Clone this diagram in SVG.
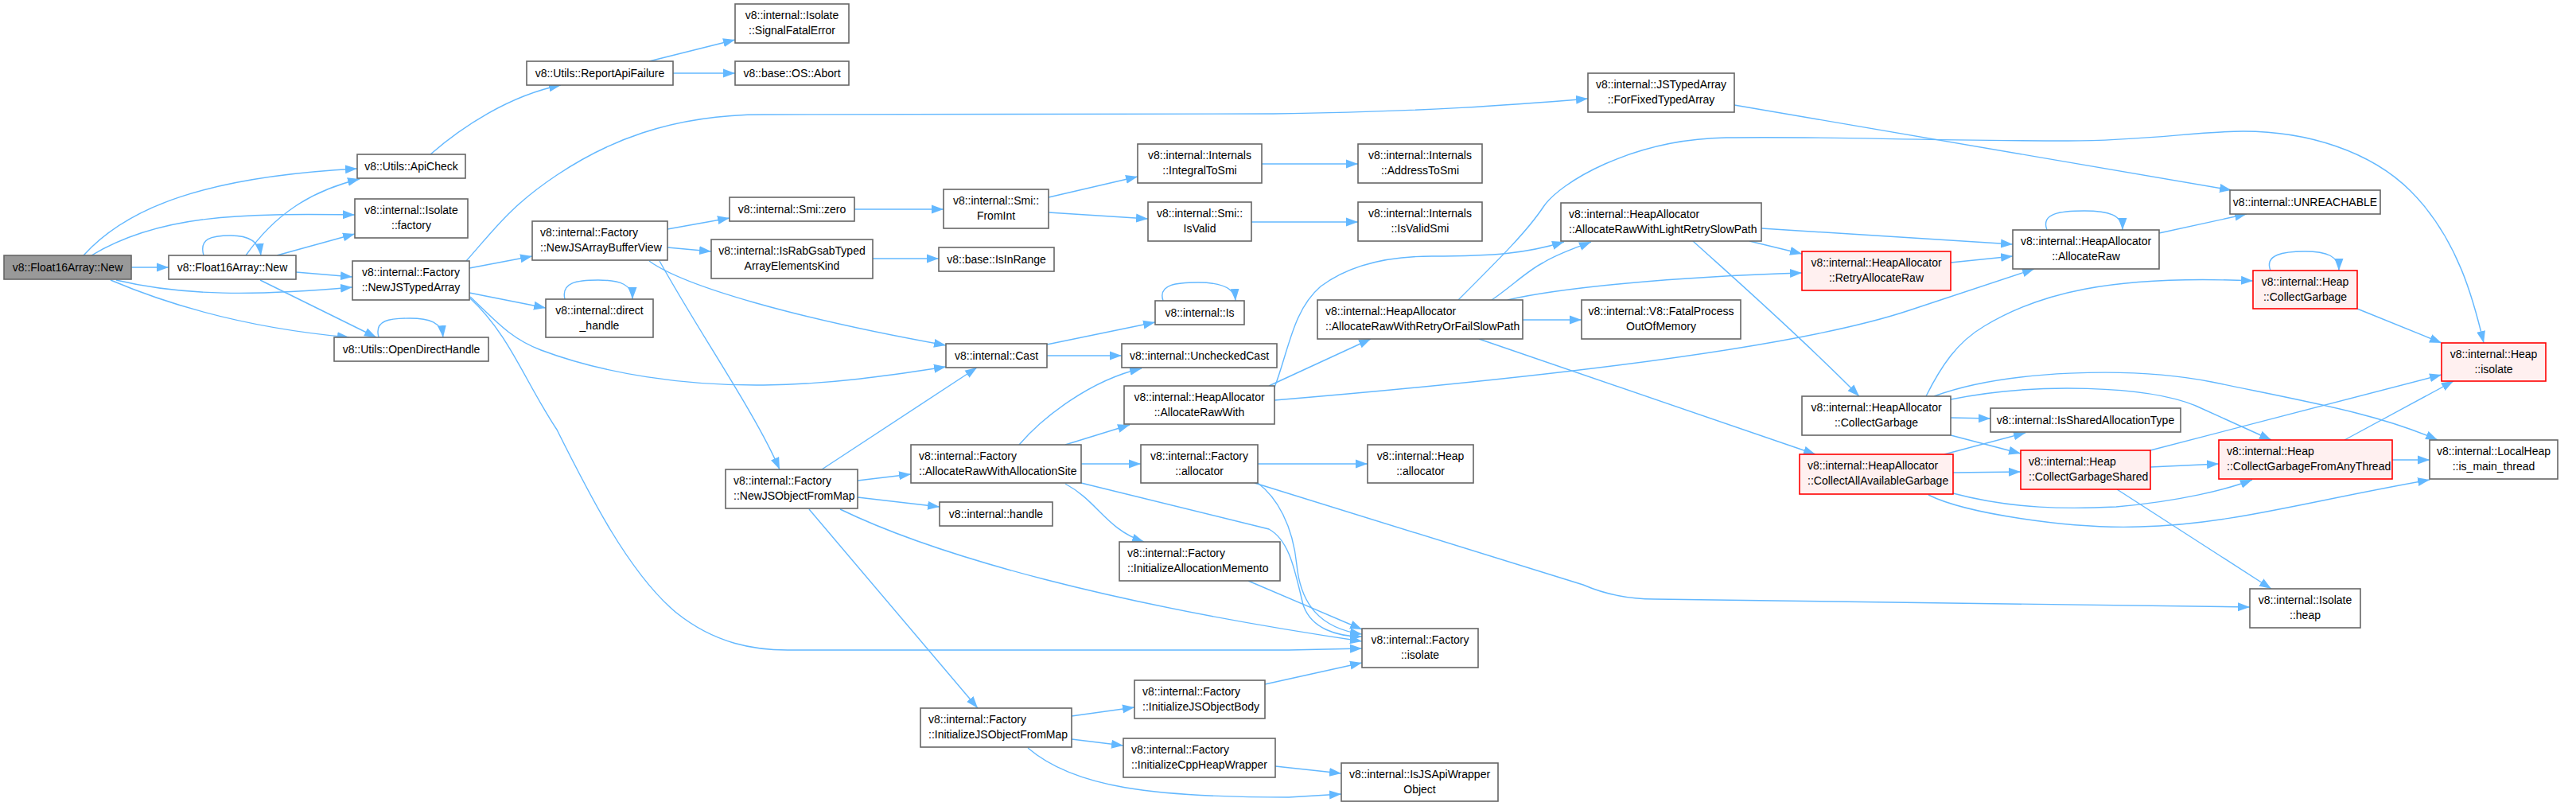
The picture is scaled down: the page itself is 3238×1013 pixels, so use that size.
<svg xmlns="http://www.w3.org/2000/svg" width="3238" height="1013" viewBox="0 0 3238 1013">
<defs>
<marker id="a" markerWidth="16" markerHeight="12" refX="15" refY="6" orient="auto" markerUnits="userSpaceOnUse"><path d="M0,0.5 L15,6 L0,11.5 z" fill="#63b8ff"/></marker>
<style>
.n rect{fill:#fff;stroke:#666;stroke-width:1.6}
.hl rect{fill:#999}
.r rect{fill:#fff0f0;stroke:#f00}
text{font-family:"Liberation Sans",Arial,sans-serif;font-size:14px;fill:#000}
.c{text-anchor:middle}
#edges path{fill:none;stroke:#63b8ff;stroke-width:1.4;marker-end:url(#a)}
</style>
</defs>
<rect width="3238" height="1013" fill="#fff"/>
<g id="edges">
<path d="M105,321 C160,260 260,222 449,212"/>
<path d="M115,321 C200,270 300,268 446,270"/>
<path d="M165,336 L212,336"/>
<path d="M146,352 C230,372 320,372 443,361"/>
<path d="M139,352 C240,395 340,415 439,424"/>
<path d="M256,321 C250,300 265,296 290,296 C315,296 326,305 328,321"/>
<path d="M309,321 C345,270 390,240 452,225"/>
<path d="M348,321 L446,294"/>
<path d="M372,342 L443,348"/>
<path d="M327,352 L473,424"/>
<path d="M476,424 C470,402 490,400 515,400 C540,400 555,405 557,424"/>
<path d="M541,194 C580,160 640,120 705,107"/>
<path d="M816,77 L924,50"/>
<path d="M846,92 L924,92"/>
<path d="M586,328 C620,290 640,260 700,220 C760,180 840,144 960,144 L1600,143 C1800,140 1900,132 1996,124"/>
<path d="M590,337 L669,322"/>
<path d="M590,368 L686,387"/>
<path d="M710,376 C705,355 725,352 752,352 C780,352 795,358 795,376"/>
<path d="M591,373 C620,400 640,425 680,440 C760,470 860,485 960,484 C1050,483 1130,470 1189,461"/>
<path d="M591,375 C640,420 660,480 700,540 C740,620 790,720 850,770 C900,810 950,817 990,817 L1620,817 L1712,815"/>
<path d="M839,288 L917,274"/>
<path d="M839,311 L894,316"/>
<path d="M816,328 C860,360 1000,400 1189,434"/>
<path d="M829,328 C880,420 950,520 980,590"/>
<path d="M1074,263 L1186,263"/>
<path d="M1318,248 L1430,222"/>
<path d="M1318,267 L1443,275"/>
<path d="M1586,206 L1707,206"/>
<path d="M1573,279 L1707,279"/>
<path d="M1097,325 L1180,325"/>
<path d="M1316,433 L1452,405"/>
<path d="M1316,447 L1410,447"/>
<path d="M1462,378 C1455,357 1480,355 1506,355 C1535,355 1552,362 1553,378"/>
<path d="M1033,590 L1228,462"/>
<path d="M1078,604 L1145,596"/>
<path d="M1078,625 L1181,637"/>
<path d="M1056,640 C1180,700 1400,760 1712,806"/>
<path d="M1017,640 L1229,890"/>
<path d="M1281,559 C1310,525 1370,478 1435,463"/>
<path d="M1339,559 L1420,534"/>
<path d="M1359,583 L1434,583"/>
<path d="M1339,608 C1380,630 1390,665 1438,681"/>
<path d="M1359,607 L1595,665 C1622,680 1628,720 1638,760 C1648,790 1680,800 1712,800"/>
<path d="M1581,607 C1605,625 1625,660 1630,710 C1635,760 1660,790 1712,797"/>
<path d="M1577,607 L1990,735 C2020,748 2050,753 2080,753 L2828,763"/>
<path d="M1581,583 L1719,583"/>
<path d="M1569,730 L1712,791"/>
<path d="M1347,900 L1426,889"/>
<path d="M1347,929 L1412,937"/>
<path d="M1292,940 C1350,990 1450,1002 1620,1002 L1686,998"/>
<path d="M1603,963 L1686,972"/>
<path d="M1590,860 L1712,833"/>
<path d="M1595,485 L1723,426"/>
<path d="M1602,487 C1620,440 1625,390 1660,360 C1700,330 1750,322 1800,322 C1880,322 1920,318 1966,304"/>
<path d="M1602,503 C1900,478 2250,440 2400,390 L2557,338"/>
<path d="M1833,377 C1890,320 1920,290 1940,260 C1960,230 2050,175 2170,173 C2300,171 2400,177 2600,177 C2700,177 2760,165 2820,165 C2900,165 2980,190 3030,240 C3090,300 3110,380 3122,431"/>
<path d="M1875,377 C1900,360 1920,340 1940,330 C1960,318 1985,310 2000,304"/>
<path d="M1895,377 C1960,362 2100,348 2265,343"/>
<path d="M1914,402 L1988,402"/>
<path d="M1859,426 L2282,571"/>
<path d="M2214,287 L2530,307"/>
<path d="M2199,303 L2265,319"/>
<path d="M2128,303 C2180,350 2260,420 2337,498"/>
<path d="M2452,330 L2530,322"/>
<path d="M2573,289 C2565,268 2590,265 2620,265 C2650,265 2668,270 2668,289"/>
<path d="M2714,293 L2824,269"/>
<path d="M2180,132 L2805,239"/>
<path d="M2421,498 C2440,460 2460,430 2494,410 C2560,370 2650,345 2832,353"/>
<path d="M2452,525 L2502,526"/>
<path d="M2452,547 L2540,570"/>
<path d="M2452,502 C2560,480 2700,485 2760,510 L2855,553"/>
<path d="M2431,498 C2520,465 2680,460 2780,480 C2900,505 2990,520 3064,553"/>
<path d="M2444,571 L2546,544"/>
<path d="M2455,594 L2540,593"/>
<path d="M2455,620 C2530,640 2600,640 2660,637 C2740,630 2800,615 2831,603"/>
<path d="M2424,622 C2470,645 2600,665 2690,662 C2800,660 2900,630 3054,603"/>
<path d="M2703,587 L2789,583"/>
<path d="M2703,566 L3069,471"/>
<path d="M2661,615 L2855,740"/>
<path d="M2947,553 L3084,479"/>
<path d="M3007,578 L3054,578"/>
<path d="M2963,388 L3069,431"/>
<path d="M2854,340 C2846,320 2870,316 2897,316 C2925,316 2940,322 2940,340"/>
</g>
<g id="n1" class="n hl"><rect x="5" y="321" width="160" height="30"/><text class="c" x="85" y="341">v8::Float16Array::New</text></g>
<g id="n2" class="n"><rect x="212" y="321" width="160" height="30"/><text class="c" x="292" y="341">v8::Float16Array::New</text></g>
<g id="apicheck" class="n"><rect x="449" y="194" width="136" height="30"/><text class="c" x="517" y="214">v8::Utils::ApiCheck</text></g>
<g id="isofactory" class="n"><rect x="446" y="250" width="142" height="49"/><text class="c" x="517" y="269">v8::internal::Isolate</text><text class="c" x="517" y="288">::factory</text></g>
<g id="newjsta" class="n"><rect x="443" y="328" width="147" height="49"/><text class="c" x="516.5" y="347">v8::internal::Factory</text><text class="c" x="516.5" y="366">::NewJSTypedArray</text></g>
<g id="opendh" class="n"><rect x="420" y="424" width="194" height="30"/><text class="c" x="517" y="444">v8::Utils::OpenDirectHandle</text></g>
<g id="report" class="n"><rect x="662" y="77" width="184" height="30"/><text class="c" x="754" y="97">v8::Utils::ReportApiFailure</text></g>
<g id="newjsabv" class="n"><rect x="669" y="278" width="170" height="49"/><text x="679" y="297">v8::internal::Factory</text><text x="679" y="316">::NewJSArrayBufferView</text></g>
<g id="directh" class="n"><rect x="686" y="376" width="135" height="48"/><text class="c" x="753.5" y="395">v8::internal::direct</text><text class="c" x="753.5" y="414">_handle</text></g>
<g id="signal" class="n"><rect x="924" y="5" width="143" height="49"/><text class="c" x="995.5" y="24">v8::internal::Isolate</text><text class="c" x="995.5" y="43">::SignalFatalError</text></g>
<g id="abort" class="n"><rect x="924" y="77" width="143" height="30"/><text class="c" x="995.5" y="97">v8::base::OS::Abort</text></g>
<g id="smizero" class="n"><rect x="917" y="248" width="157" height="30"/><text class="c" x="995.5" y="268">v8::internal::Smi::zero</text></g>
<g id="israb" class="n"><rect x="894" y="301" width="203" height="49"/><text class="c" x="995.5" y="320">v8::internal::IsRabGsabTyped</text><text class="c" x="995.5" y="339">ArrayElementsKind</text></g>
<g id="fromint" class="n"><rect x="1186" y="238" width="132" height="49"/><text class="c" x="1252" y="257">v8::internal::Smi::</text><text class="c" x="1252" y="276">FromInt</text></g>
<g id="isinrange" class="n"><rect x="1180" y="311" width="145" height="30"/><text class="c" x="1252.5" y="331">v8::base::IsInRange</text></g>
<g id="integral" class="n"><rect x="1430" y="181" width="156" height="49"/><text class="c" x="1508" y="200">v8::internal::Internals</text><text class="c" x="1508" y="219">::IntegralToSmi</text></g>
<g id="isvalid" class="n"><rect x="1443" y="254" width="130" height="49"/><text class="c" x="1508" y="273">v8::internal::Smi::</text><text class="c" x="1508" y="292">IsValid</text></g>
<g id="is" class="n"><rect x="1452" y="378" width="112" height="30"/><text class="c" x="1508" y="398">v8::internal::Is</text></g>
<g id="cast" class="n"><rect x="1189" y="432" width="127" height="30"/><text class="c" x="1252.5" y="452">v8::internal::Cast</text></g>
<g id="unchecked" class="n"><rect x="1410" y="432" width="195" height="30"/><text class="c" x="1507.5" y="452">v8::internal::UncheckedCast</text></g>
<g id="allocrawwith" class="n"><rect x="1413" y="485" width="189" height="48"/><text class="c" x="1507.5" y="504">v8::internal::HeapAllocator</text><text class="c" x="1507.5" y="523">::AllocateRawWith</text></g>
<g id="forfixed" class="n"><rect x="1996" y="92" width="184" height="49"/><text class="c" x="2088" y="111">v8::internal::JSTypedArray</text><text class="c" x="2088" y="130">::ForFixedTypedArray</text></g>
<g id="address" class="n"><rect x="1707" y="181" width="156" height="49"/><text class="c" x="1785" y="200">v8::internal::Internals</text><text class="c" x="1785" y="219">::AddressToSmi</text></g>
<g id="isvalidsmi" class="n"><rect x="1707" y="254" width="156" height="49"/><text class="c" x="1785" y="273">v8::internal::Internals</text><text class="c" x="1785" y="292">::IsValidSmi</text></g>
<g id="lightretry" class="n"><rect x="1962" y="255" width="252" height="48"/><text x="1972" y="274">v8::internal::HeapAllocator</text><text x="1972" y="293">::AllocateRawWithLightRetrySlowPath</text></g>
<g id="retryallocraw" class="n r"><rect x="2265" y="316" width="187" height="49"/><text class="c" x="2358.5" y="335">v8::internal::HeapAllocator</text><text class="c" x="2358.5" y="354">::RetryAllocateRaw</text></g>
<g id="retryorfail" class="n"><rect x="1656" y="377" width="258" height="49"/><text x="1666" y="396">v8::internal::HeapAllocator</text><text x="1666" y="415">::AllocateRawWithRetryOrFailSlowPath</text></g>
<g id="fatal" class="n"><rect x="1988" y="377" width="200" height="49"/><text class="c" x="2088" y="396">v8::internal::V8::FatalProcess</text><text class="c" x="2088" y="415">OutOfMemory</text></g>
<g id="unreachable" class="n"><rect x="2803" y="239" width="189" height="30"/><text class="c" x="2897.5" y="259">v8::internal::UNREACHABLE</text></g>
<g id="allocateraw" class="n"><rect x="2530" y="289" width="184" height="49"/><text class="c" x="2622" y="308">v8::internal::HeapAllocator</text><text class="c" x="2622" y="327">::AllocateRaw</text></g>
<g id="heapcg" class="n r"><rect x="2832" y="340" width="131" height="48"/><text class="c" x="2897.5" y="359">v8::internal::Heap</text><text class="c" x="2897.5" y="378">::CollectGarbage</text></g>
<g id="heapisolate" class="n r"><rect x="3069" y="431" width="131" height="48"/><text class="c" x="3134.5" y="450">v8::internal::Heap</text><text class="c" x="3134.5" y="469">::isolate</text></g>
<g id="newjsobj" class="n"><rect x="912" y="590" width="166" height="49"/><text x="922" y="609">v8::internal::Factory</text><text x="922" y="628">::NewJSObjectFromMap</text></g>
<g id="allocsite" class="n"><rect x="1145" y="559" width="214" height="48"/><text x="1155" y="578">v8::internal::Factory</text><text x="1155" y="597">::AllocateRawWithAllocationSite</text></g>
<g id="handle" class="n"><rect x="1181" y="631" width="142" height="30"/><text class="c" x="1252" y="651">v8::internal::handle</text></g>
<g id="factoryallocator" class="n"><rect x="1434" y="559" width="147" height="48"/><text class="c" x="1507.5" y="578">v8::internal::Factory</text><text class="c" x="1507.5" y="597">::allocator</text></g>
<g id="initmemento" class="n"><rect x="1407" y="681" width="202" height="49"/><text x="1417" y="700">v8::internal::Factory</text><text x="1417" y="719">::InitializeAllocationMemento</text></g>
<g id="initjsobjfrommap" class="n"><rect x="1157" y="890" width="190" height="49"/><text x="1167" y="909">v8::internal::Factory</text><text x="1167" y="928">::InitializeJSObjectFromMap</text></g>
<g id="initbody" class="n"><rect x="1426" y="855" width="164" height="48"/><text x="1436" y="874">v8::internal::Factory</text><text x="1436" y="893">::InitializeJSObjectBody</text></g>
<g id="initcpp" class="n"><rect x="1412" y="928" width="191" height="49"/><text x="1422" y="947">v8::internal::Factory</text><text x="1422" y="966">::InitializeCppHeapWrapper</text></g>
<g id="heapallocator" class="n"><rect x="1719" y="559" width="133" height="48"/><text class="c" x="1785.5" y="578">v8::internal::Heap</text><text class="c" x="1785.5" y="597">::allocator</text></g>
<g id="factoryisolate" class="n"><rect x="1712" y="790" width="146" height="49"/><text class="c" x="1785" y="809">v8::internal::Factory</text><text class="c" x="1785" y="828">::isolate</text></g>
<g id="isjsapi" class="n"><rect x="1686" y="959" width="197" height="48"/><text class="c" x="1784.5" y="978">v8::internal::IsJSApiWrapper</text><text class="c" x="1784.5" y="997">Object</text></g>
<g id="hacg" class="n"><rect x="2265" y="498" width="187" height="49"/><text class="c" x="2358.5" y="517">v8::internal::HeapAllocator</text><text class="c" x="2358.5" y="536">::CollectGarbage</text></g>
<g id="collectall" class="n r"><rect x="2262" y="571" width="193" height="50"/><text x="2272" y="590">v8::internal::HeapAllocator</text><text x="2272" y="609">::CollectAllAvailableGarbage</text></g>
<g id="issharedalloc" class="n"><rect x="2502" y="513" width="239" height="30"/><text class="c" x="2621.5" y="533">v8::internal::IsSharedAllocationType</text></g>
<g id="cgshared" class="n r"><rect x="2540" y="566" width="163" height="49"/><text x="2550" y="585">v8::internal::Heap</text><text x="2550" y="604">::CollectGarbageShared</text></g>
<g id="cgfromany" class="n r"><rect x="2789" y="553" width="218" height="49"/><text x="2799" y="572">v8::internal::Heap</text><text x="2799" y="591">::CollectGarbageFromAnyThread</text></g>
<g id="ismainthread" class="n"><rect x="3054" y="553" width="161" height="49"/><text class="c" x="3134.5" y="572">v8::internal::LocalHeap</text><text class="c" x="3134.5" y="591">::is_main_thread</text></g>
<g id="isolateheap" class="n"><rect x="2828" y="740" width="139" height="49"/><text class="c" x="2897.5" y="759">v8::internal::Isolate</text><text class="c" x="2897.5" y="778">::heap</text></g>
</svg>
